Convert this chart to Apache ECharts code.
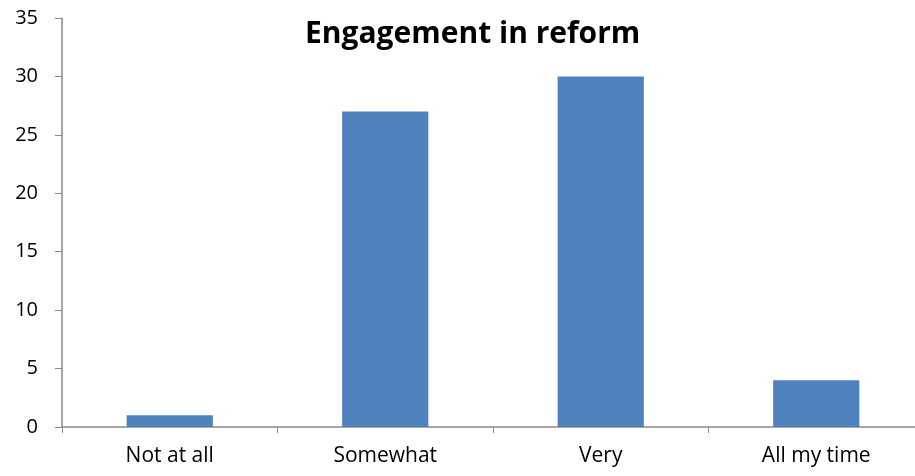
<!DOCTYPE html>
<html><head><meta charset="utf-8">
<script src="https://cdn.jsdelivr.net/npm/echarts@6/dist/echarts.min.js"></script>
<style>html,body{margin:0;padding:0;background:#fff}#c{width:915px;height:476px}</style>
</head><body><div id="c"></div>
<script>
const categories = ["Not at all", "Somewhat", "Very", "All my time"];
const values = [1, 27, 30, 4];
const yTicks = {min: 0, max: 35, interval: 5};
const chartTitle = "Engagement in reform";

const chart = echarts.init(document.getElementById('c'));
chart.setOption({
  animation: false,
  title: {text: chartTitle, left: 300, top: 14,
    textStyle: {fontFamily: 'Open Sans', fontWeight: 'bold', fontSize: 30, color: '#000'}},
  grid: {left: 62, top: 18, width: 862, bottom: 49, outerBoundsMode: 'none', containLabel: false},
  xAxis: {type: 'category', data: categories,
    axisLine: {lineStyle: {color: '#898989', width: 1.5}},
    axisTick: {show: true, length: 6, lineStyle: {color: '#898989'}},
    axisLabel: {color: '#000', fontFamily: 'Open Sans', fontSize: 21, margin: 19}},
  yAxis: {type: 'value', min: yTicks.min, max: yTicks.max, interval: yTicks.interval,
    splitLine: {show: false},
    axisLine: {show: true, lineStyle: {color: '#898989', width: 1.5}},
    axisTick: {show: true, length: 7, lineStyle: {color: '#898989'}},
    axisLabel: {color: '#000', fontFamily: 'Open Sans', fontSize: 20, margin: 24}},
  series: [{type: 'bar', data: values, barWidth: '40%', itemStyle: {color: '#4F81BD'}}]
});
</script></body></html>
